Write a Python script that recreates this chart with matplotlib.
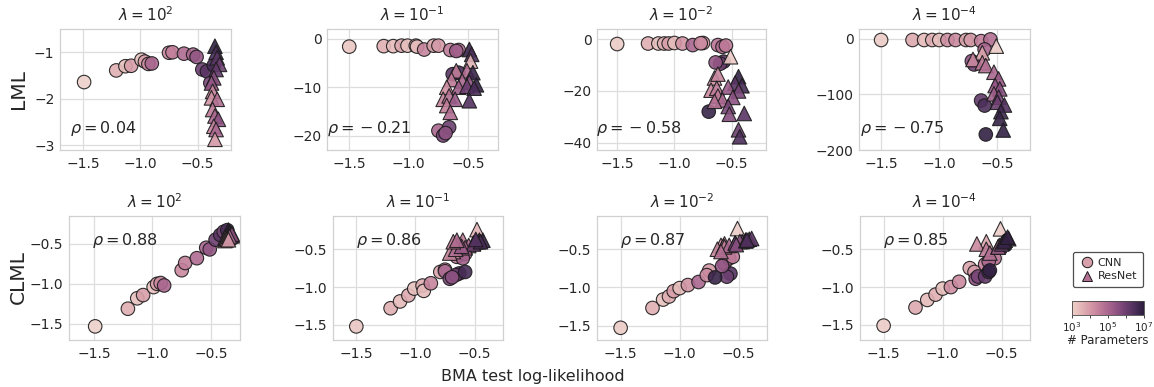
import numpy as np
import matplotlib
matplotlib.use("Agg")
import matplotlib.pyplot as plt
import seaborn as sns
from matplotlib.colors import Normalize, LogNorm
from matplotlib.cm import ScalarMappable
from matplotlib.lines import Line2D

# ---------------- data ----------------
lambda_titles = [r'$\lambda = 10^{2}$', r'$\lambda = 10^{-1}$', r'$\lambda = 10^{-2}$', r'$\lambda = 10^{-4}$']
rho_lml = [0.04, -0.21, -0.58, -0.75]
rho_clml = [0.88, 0.86, 0.87, 0.85]
lml_yticks = [[-3, -2, -1], [-20, -10, 0], [-40, -20, 0], [-200, -100, 0]]
clml_yticks = [-1.5, -1.0, -0.5]
x_ticks = [-1.5, -1.0, -0.5]

# lambda = 1e2 : CNN
cnn_x_0 = [-1.49, -1.21, -1.13, -1.08, -0.99, -0.96, -0.93, -0.90, -0.75, -0.72, -0.62, -0.54, -0.51, -0.46, -0.42, -0.39, -0.36]
cnn_lml_0 = [-1.64, -1.39, -1.30, -1.29, -1.16, -1.20, -1.25, -1.24, -1.01, -1.00, -1.03, -1.05, -1.10, -1.37, -1.41, -1.66, -1.28]
cnn_clml_0 = [-1.53, -1.31, -1.18, -1.14, -1.04, -1.00, -0.99, -1.02, -0.83, -0.74, -0.68, -0.55, -0.57, -0.45, -0.39, -0.35, -0.33]
cnn_logp_0 = [3.0, 3.6, 3.3, 3.9, 3.3, 3.9, 4.3, 5.0, 4.3, 4.5, 4.9, 5.0, 5.4, 6.0, 6.3, 5.8, 6.6]
# lambda = 1e2 : ResNet
res_x_0 = [-0.35, -0.34, -0.33, -0.31, -0.34, -0.36, -0.38, -0.37, -0.38, -0.33, -0.37, -0.35, -0.32, -0.36, -0.34, -0.35]
res_lml_0 = [-0.87, -1.00, -1.12, -1.26, -1.37, -1.55, -1.66, -1.84, -1.98, -2.01, -2.23, -2.37, -2.44, -2.59, -2.66, -2.87]
res_clml_0 = [-0.33, -0.35, -0.37, -0.40, -0.38, -0.41, -0.43, -0.45, -0.46, -0.40, -0.44, -0.42, -0.38, -0.44, -0.41, -0.45]
res_logp_0 = [6.9, 6.6, 6.3, 6.0, 6.2, 5.6, 5.4, 4.4, 4.1, 4.8, 4.6, 5.0, 5.5, 4.4, 5.0, 4.0]

# lambda = 1e-1 : CNN
cnn_x_1 = [-1.50, -1.21, -1.13, -1.06, -1.01, -0.94, -0.93, -0.87, -0.79, -0.75, -0.65, -0.58, -0.63, -0.75, -0.71, -0.66, -0.69, -0.60, -0.58]
cnn_lml_1 = [-1.6, -1.5, -1.5, -1.4, -1.4, -1.4, -1.6, -2.2, -1.4, -1.4, -2.3, -2.3, -7.3, -19.0, -20.0, -18.3, -19.5, -2.5, -7.0]
cnn_clml_1 = [-1.52, -1.28, -1.19, -1.11, -1.02, -0.98, -1.05, -0.95, -0.80, -0.77, -0.60, -0.56, -0.82, -0.79, -0.89, -0.84, -0.87, -0.62, -0.80]
cnn_logp_1 = [3.2, 3.6, 3.4, 3.7, 3.3, 3.6, 3.4, 4.4, 3.8, 4.0, 4.6, 4.7, 6.3, 5.0, 5.8, 6.0, 5.5, 5.2, 6.6]
# lambda = 1e-1 : ResNet
res_x_1 = [-0.49, -0.47, -0.48, -0.60, -0.51, -0.46, -0.64, -0.55, -0.49, -0.43, -0.68, -0.58, -0.51, -0.45, -0.71, -0.66, -0.61, -0.49, -0.68, -0.65]
res_lml_1 = [-2.2, -3.2, -4.6, -6.6, -6.6, -7.0, -8.4, -8.7, -9.0, -9.5, -10.0, -10.0, -9.8, -10.2, -12.5, -11.8, -12.5, -12.8, -13.8, -15.2]
res_clml_1 = [-0.37, -0.40, -0.24, -0.38, -0.42, -0.38, -0.43, -0.45, -0.40, -0.38, -0.53, -0.48, -0.43, -0.40, -0.55, -0.50, -0.46, -0.37, -0.40, -0.38]
res_logp_1 = [6.8, 6.5, 3.5, 4.5, 4.8, 6.8, 4.6, 5.0, 5.5, 6.9, 4.2, 5.2, 6.0, 6.5, 4.4, 4.8, 5.3, 6.4, 4.5, 4.9]

# lambda = 1e-2 : CNN
cnn_x_2 = [-1.50, -1.23, -1.14, -1.09, -1.05, -1.00, -0.93, -0.84, -0.75, -0.77, -0.62, -0.58, -0.55, -0.57, -0.60, -0.70, -0.64]
cnn_lml_2 = [-1.9, -1.7, -1.7, -1.7, -1.7, -1.5, -1.7, -2.3, -1.5, -1.6, -2.3, -3.0, -2.5, -8.7, -9.5, -28.0, -9.0]
cnn_clml_2 = [-1.53, -1.27, -1.16, -1.12, -1.05, -1.01, -0.97, -0.93, -0.78, -0.84, -0.69, -0.62, -0.60, -0.82, -0.86, -0.87, -0.72]
cnn_logp_2 = [3.1, 3.6, 3.3, 3.6, 3.9, 3.4, 4.1, 5.0, 4.0, 4.3, 4.7, 4.9, 4.6, 6.4, 6.0, 6.8, 5.4]
# lambda = 1e-2 : ResNet
res_x_2 = [-0.51, -0.44, -0.65, -0.62, -0.47, -0.41, -0.68, -0.63, -0.53, -0.44, -0.62, -0.58, -0.49, -0.65, -0.53, -0.52, -0.39, -0.44, -0.43]
res_lml_2 = [-6.8, -14.5, -15.0, -13.5, -17.0, -18.0, -19.7, -19.0, -18.5, -20.0, -22.0, -23.5, -22.5, -24.0, -26.0, -29.0, -28.7, -35.0, -37.7]
res_clml_2 = [-0.23, -0.38, -0.45, -0.43, -0.40, -0.37, -0.50, -0.46, -0.42, -0.39, -0.47, -0.45, -0.40, -0.53, -0.42, -0.44, -0.36, -0.39, -0.38]
res_logp_2 = [3.1, 6.9, 4.2, 4.4, 6.3, 6.6, 4.3, 4.6, 5.3, 5.8, 4.5, 5.0, 5.5, 4.8, 5.8, 5.6, 6.3, 6.0, 6.5]

# lambda = 1e-4 : CNN
cnn_x_3 = [-1.50, -1.23, -1.13, -1.06, -1.00, -0.93, -0.86, -0.77, -0.73, -0.64, -0.56, -0.61, -0.72, -0.70, -0.64, -0.61, -0.60]
cnn_lml_3 = [-2, -2, -2, -2, -2, -2, -2, -2, -2, -4, -1, -19, -40, -46, -111, -120, -172]
cnn_clml_3 = [-1.51, -1.27, -1.17, -1.10, -1.02, -1.00, -0.93, -0.75, -0.80, -0.70, -0.62, -0.66, -0.89, -0.86, -0.86, -0.80, -0.78]
cnn_logp_3 = [3.1, 3.7, 3.4, 3.6, 3.3, 4.2, 4.3, 3.8, 4.0, 4.5, 4.8, 5.0, 5.5, 5.8, 6.2, 6.5, 6.9]
# lambda = 1e-4 : ResNet
res_x_3 = [-0.51, -0.63, -0.71, -0.63, -0.60, -0.53, -0.49, -0.52, -0.48, -0.53, -0.49, -0.50, -0.44, -0.47, -0.48, -0.45]
res_lml_3 = [-13, -25, -37, -43, -48, -60, -72, -84, -90, -99, -105, -114, -119, -131, -143, -164]
res_clml_3 = [-0.23, -0.40, -0.43, -0.50, -0.55, -0.47, -0.42, -0.45, -0.40, -0.47, -0.41, -0.43, -0.36, -0.38, -0.40, -0.34]
res_logp_3 = [3.1, 3.8, 4.3, 4.6, 4.8, 5.0, 5.3, 5.4, 5.6, 5.2, 5.8, 6.0, 6.4, 6.7, 6.8, 6.9]

cnn_x = [cnn_x_0, cnn_x_1, cnn_x_2, cnn_x_3]
cnn_lml = [cnn_lml_0, cnn_lml_1, cnn_lml_2, cnn_lml_3]
cnn_clml = [cnn_clml_0, cnn_clml_1, cnn_clml_2, cnn_clml_3]
cnn_logp = [cnn_logp_0, cnn_logp_1, cnn_logp_2, cnn_logp_3]
res_x = [res_x_0, res_x_1, res_x_2, res_x_3]
res_lml = [res_lml_0, res_lml_1, res_lml_2, res_lml_3]
res_clml = [res_clml_0, res_clml_1, res_clml_2, res_clml_3]
res_logp = [res_logp_0, res_logp_1, res_logp_2, res_logp_3]

# ---------------- style / layout ----------------
TXT = '#262626'
GRID = '#dddddd'
plt.rcParams['font.family'] = ['DejaVu Sans']
plt.rcParams['text.color'] = TXT
plt.rcParams['axes.labelcolor'] = TXT
plt.rcParams['xtick.color'] = TXT
plt.rcParams['ytick.color'] = TXT

cmap = sns.cubehelix_palette(as_cmap=True)
norm = Normalize(3, 7)

W, H = 1154, 387
fig = plt.figure(figsize=(W / 100, H / 100), dpi=100)


def px_axes(l, t, r, b):
    return fig.add_axes([l / W, 1 - b / H, (r - l) / W, (b - t) / H])


def rho_text(v):
    if v < 0:
        return r'$\rho =\,{-}\:%.2f$' % abs(v)
    return r'$\rho = %.2f$' % v


row1_box = [(60, 29, 231, 150), (327, 29, 498, 150), (597, 29, 766, 150), (859, 29, 1030, 150)]
row2_box = [(69, 216, 240, 340), (333, 216, 503, 340), (597, 216, 767, 340), (860, 216, 1030, 340)]
row1_xlim = [(-1.70, -0.21), (-1.687, -0.249), (-1.676, -0.20), (-1.69, -0.22)]
row2_xlim = [(-1.714, -0.251), (-1.697, -0.26), (-1.70, -0.26), (-1.70, -0.26)]
row1_ylim = [(-3.1, -0.5), (-23.0, 2.05), (-42.8, 3.9), (-197.6, 17.8)]
row2_ylim = [(-1.70, -0.154), (-1.70, -0.06), (-1.69, -0.065), (-1.70, -0.06)]


def style(ax):
    ax.set_axisbelow(True)
    ax.grid(True, color=GRID, lw=0.9)
    for s in ax.spines.values():
        s.set_color('#d0d0d0')
        s.set_linewidth(0.9)
    ax.tick_params(length=0, labelsize=10, colors=TXT)
    ax.tick_params(axis='x', pad=5)
    ax.tick_params(axis='y', pad=4)


scat_kw = dict(cmap=cmap, norm=norm, edgecolors='#1a1a1a', linewidths=0.8, alpha=0.9)

for i in range(4):
    # top row: LML
    ax = px_axes(*row1_box[i])
    style(ax)
    ax.scatter(cnn_x[i], cnn_lml[i], c=cnn_logp[i], marker='o', s=95, **scat_kw)
    ax.scatter(res_x[i], res_lml[i], c=res_logp[i], marker='^', s=110, **scat_kw)
    ax.set_xlim(*row1_xlim[i])
    ax.set_ylim(*row1_ylim[i])
    ax.set_xticks(x_ticks)
    ax.set_yticks(lml_yticks[i])
    ax.set_title(lambda_titles[i], fontsize=11, color=TXT, pad=6)
    ax.text(0.25, 0.18, rho_text(rho_lml[i]), transform=ax.transAxes,
            ha='center', va='center', fontsize=11.5, color=TXT)

    # bottom row: CLML
    ax = px_axes(*row2_box[i])
    style(ax)
    ax.scatter(cnn_x[i], cnn_clml[i], c=cnn_logp[i], marker='o', s=95, **scat_kw)
    ax.scatter(res_x[i], res_clml[i], c=res_logp[i], marker='^', s=110, **scat_kw)
    ax.set_xlim(*row2_xlim[i])
    ax.set_ylim(*row2_ylim[i])
    ax.set_xticks(x_ticks)
    ax.set_yticks(clml_yticks)
    ax.set_title(lambda_titles[i], fontsize=11, color=TXT, pad=6)
    ax.text(0.33, 0.80, rho_text(rho_clml[i]), transform=ax.transAxes,
            ha='center', va='center', fontsize=11.5, color=TXT)

fig.text(18.5 / W, 1 - 89 / H, 'LML', rotation=90, ha='center', va='center', fontsize=14.5, color=TXT)
fig.text(18.5 / W, 1 - 277 / H, 'CLML', rotation=90, ha='center', va='center', fontsize=14.5, color=TXT)
fig.text(533 / W, 1 - 377 / H, 'BMA test log-likelihood', ha='center', va='center', fontsize=11.5, color=TXT)

# legend
handles = [
    Line2D([], [], marker='o', ls='none', markersize=7.5, markerfacecolor=cmap(0.22),
           markeredgecolor='#1a1a1a', markeredgewidth=0.7, label='CNN'),
    Line2D([], [], marker='^', ls='none', markersize=7.5, markerfacecolor=cmap(0.45),
           markeredgecolor='#1a1a1a', markeredgewidth=0.7, label='ResNet'),
]
leg = fig.legend(handles=handles, loc='center', bbox_to_anchor=(1108 / W, 1 - 269.5 / H),
                 fontsize=8, frameon=True, fancybox=True, handletextpad=0.3,
                 borderpad=0.5, labelspacing=0.35, handlelength=1.4, borderaxespad=0)
leg.get_frame().set_edgecolor('#222222')
leg.get_frame().set_linewidth(0.9)

# colorbar
cax = fig.add_axes([1072 / W, 1 - 315 / H, 72 / W, 14 / H])
cb = fig.colorbar(ScalarMappable(norm=LogNorm(1e3, 1e7), cmap=cmap), cax=cax, orientation='horizontal')
cb.set_ticks([1e3, 1e4, 1e5, 1e6, 1e7])
cb.set_ticklabels([r'$10^{3}$', '', r'$10^{5}$', '', r'$10^{7}$'])
cb.ax.minorticks_off()
cb.ax.tick_params(labelsize=7.5, length=2.5, width=0.6, pad=1, colors=TXT)
cb.outline.set_linewidth(0.6)
cb.outline.set_edgecolor('#444444')
cb.set_label('# Parameters', fontsize=8.5, labelpad=0, color=TXT)

fig.savefig('out.png', dpi=100)
